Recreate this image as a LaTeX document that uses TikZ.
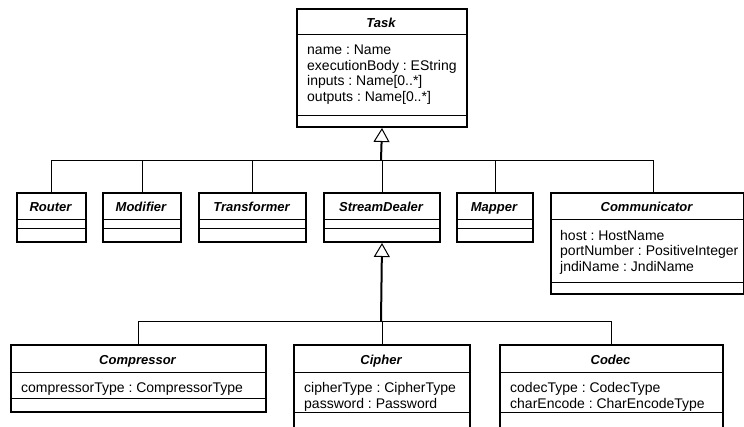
\documentclass[tikz,border=0pt]{standalone}
\usepackage{fontspec}
\setmainfont{Liberation Sans}
\usetikzlibrary{arrows.meta}
\frenchspacing

\begin{document}
\begin{tikzpicture}[x=1pt,y=-1pt,
    gen/.style={line width=2pt, -{Triangle[open, fill=white, length=14pt, width=16pt, line width=1pt]}},
    branch/.style={line width=.9pt}]

        \clip (0,0) rectangle (744,427);

        % class boxes
        \begin{scope}[every node/.style={draw, line width=2pt, rectangle, anchor=north west, inner sep=0}]
          \node[minimum width=170, minimum height=118] (task)         at (296,8)   {};
          \node[minimum width=69,  minimum height=49]  (router)       at (16,192)  {};
          \node[minimum width=78,  minimum height=49]  (modifier)     at (102,192) {};
          \node[minimum width=107, minimum height=49]  (transformer)  at (198,192) {};
          \node[minimum width=116, minimum height=49]  (streamdealer) at (323,192) {};
          \node[minimum width=76,  minimum height=49]  (mapper)       at (456,192) {};
          \node[minimum width=193, minimum height=101] (communicator) at (550,192) {};
          \node[minimum width=255, minimum height=67]  (compressor)   at (10,344)  {};
          \node[minimum width=176, minimum height=92]  (cipher)       at (293,344) {};
          \node[minimum width=223, minimum height=92]  (codec)        at (499,344) {};
        \end{scope}

        % compartments
        \begin{scope}[line width=.8pt]
          \draw ([yshift=-26]task.north west)         -- ([yshift=-26]task.north east);
          \draw ([yshift=-107]task.north west)        -- ([yshift=-107]task.north east);
          \draw ([yshift=-27]router.north west)       -- ([yshift=-27]router.north east);
          \draw ([yshift=-36]router.north west)       -- ([yshift=-36]router.north east);
          \draw ([yshift=-27]modifier.north west)     -- ([yshift=-27]modifier.north east);
          \draw ([yshift=-36]modifier.north west)     -- ([yshift=-36]modifier.north east);
          \draw ([yshift=-27]transformer.north west)  -- ([yshift=-27]transformer.north east);
          \draw ([yshift=-36]transformer.north west)  -- ([yshift=-36]transformer.north east);
          \draw ([yshift=-27]streamdealer.north west) -- ([yshift=-27]streamdealer.north east);
          \draw ([yshift=-36]streamdealer.north west) -- ([yshift=-36]streamdealer.north east);
          \draw ([yshift=-27]mapper.north west)       -- ([yshift=-27]mapper.north east);
          \draw ([yshift=-36]mapper.north west)       -- ([yshift=-36]mapper.north east);
          \draw ([yshift=-27]communicator.north west) -- ([yshift=-27]communicator.north east);
          \draw ([yshift=-90]communicator.north west) -- ([yshift=-90]communicator.north east);
          \draw ([yshift=-28]compressor.north west)   -- ([yshift=-28]compressor.north east);
          \draw ([yshift=-54]compressor.north west)   -- ([yshift=-54]compressor.north east);
          \draw ([yshift=-28]cipher.north west)       -- ([yshift=-28]cipher.north east);
          \draw ([yshift=-68]cipher.north west)       -- ([yshift=-68]cipher.north east);
          \draw ([yshift=-28]codec.north west)        -- ([yshift=-28]codec.north east);
          \draw ([yshift=-68]codec.north west)        -- ([yshift=-68]codec.north east);
        \end{scope}

        % class names
        \begin{scope}[every node/.style={anchor=base, inner sep=0, font=\fontsize{13}{15}\selectfont\bfseries\itshape}]
          \node (tasktitle)         at (381,27.5)  {Task};
          \node (routertitle)       at (50.5,212)  {Router};
          \node (modifiertitle)     at (141,212)   {Modifier};
          \node (transformertitle)  at (251.5,212) {Transformer};
          \node (streamdealertitle) at (381,212)   {StreamDealer};
          \node (mappertitle)       at (494,212)   {Mapper};
          \node (communicatortitle) at (646.5,212) {Communicator};
          \node (compressortitle)   at (137.5,364) {Compressor};
          \node (ciphertitle)       at (381,364)   {Cipher};
          \node (codectitle)        at (610.5,364) {Codec};
        \end{scope}

        % attributes
        \begin{scope}[every node/.style={anchor=north west, align=left, inner sep=0, font=\fontsize{14}{15.5}\selectfont}]
          \node (taskattr)         at (307,45)   {name : Name\\executionBody : EString\\inputs : Name[0..*]\\outputs : Name[0..*]};
          \node (communicatorattr) at (560,230)  {host : HostName\\portNumber : PositiveInteger\\jndiName : JndiName};
          \node (compressorattr)   at (21,382.5) {compressorType : CompressorType};
          \node (cipherattr)       at (304,382.5) {cipherType : CipherType\\password : Password};
          \node (codecattr)        at (510,382.5) {codecType : CodecType\\charEncode : CharEncodeType};
        \end{scope}

        % generalizations
        \coordinate (topbar) at (381,160);
        \coordinate (lowbar) at (381,321);

        \draw[gen] (topbar) -- (task.south);
        \draw[branch] (router.north)       |- (topbar);
        \draw[branch] (modifier.north)     |- (topbar);
        \draw[branch] (transformer.north)  |- (topbar);
        \draw[branch] (streamdealer.north) |- (topbar);
        \draw[branch] (mapper.north)       |- (topbar);
        \draw[branch] ([xshift=5.5]communicator.north) |- (topbar);

        \draw[gen] (lowbar) -- (streamdealer.south);
        \draw[branch] (compressor.north) |- (lowbar);
        \draw[branch] (cipher.north)     |- (lowbar);
        \draw[branch] (codec.north)      |- (lowbar);

      \end{tikzpicture}
\end{document}
